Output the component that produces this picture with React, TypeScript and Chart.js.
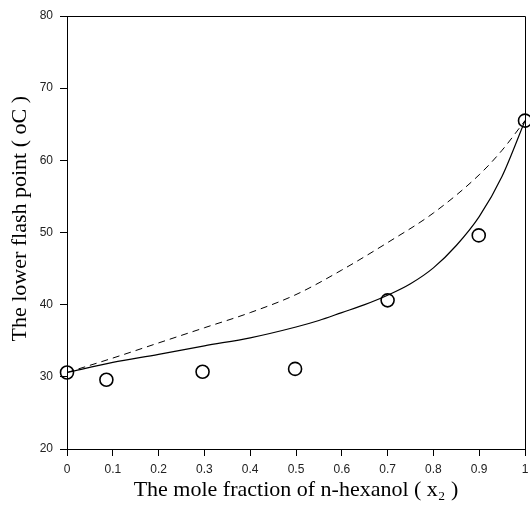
import React, { useEffect, useRef } from "react";
import { Chart, registerables } from "chart.js";

Chart.register(...registerables);

const expX = [0, 0.086, 0.296, 0.498, 0.7, 0.899, 1];
const expY = [30.6, 29.6, 30.7, 31.1, 40.6, 49.6, 65.5];

const solidX = [0, 0.1, 0.2, 0.3, 0.4, 0.5, 0.55, 0.6, 0.65, 0.7, 0.75, 0.8, 0.85, 0.9, 0.95, 1];
const solidY = [30.6, 32.0, 33.1, 34.3, 35.4, 36.9, 37.8, 38.9, 40.0, 41.3, 42.9, 45.1, 48.2, 52.2, 57.8, 65.5];

const dashX = [0, 0.1, 0.2, 0.3, 0.4, 0.5, 0.6, 0.7, 0.8, 0.9, 0.95, 1];
const dashY = [30.6, 32.6, 34.7, 36.8, 38.9, 41.4, 44.8, 48.6, 52.7, 58.0, 61.4, 65.5];

const xTitle = "The mole fraction of n-hexanol ( x\u2082 )";
const yTitle = "     The lower flash point ( oC )";

const boxPlugin = {
  id: "boxPlugin",
  afterDatasetsDraw(chart: any) {
    const { ctx, chartArea } = chart;
    ctx.save();
    ctx.strokeStyle = "#000";
    ctx.lineWidth = 1;
    ctx.beginPath();
    ctx.moveTo(chartArea.left, chartArea.top + 0.5);
    ctx.lineTo(chartArea.right + 0.5, chartArea.top + 0.5);
    ctx.lineTo(chartArea.right + 0.5, chartArea.bottom);
    ctx.stroke();
    ctx.restore();
  },
};

export default function App() {
  const ref = useRef<HTMLCanvasElement | null>(null);
  useEffect(() => {
    if (!ref.current) return;
    const toPts = (xs: number[], ys: number[]) => xs.map((x, i) => ({ x, y: ys[i] }));
    const chart = new Chart(ref.current, {
      type: "scatter",
      data: {
        datasets: [
          {
            label: "experimental",
            data: toPts(expX, expY),
            showLine: false,
            pointStyle: "circle",
            pointRadius: 6.5,
            pointBorderWidth: 1.6,
            borderColor: "#000",
            backgroundColor: "rgba(0,0,0,0)",
            clip: false,
          } as any,
          {
            label: "model",
            data: toPts(solidX, solidY),
            showLine: true,
            pointRadius: 0,
            borderColor: "#000",
            borderWidth: 1.2,
            tension: 0.4,
            cubicInterpolationMode: "monotone",
            fill: false,
          } as any,
          {
            label: "ideal",
            data: toPts(dashX, dashY),
            showLine: true,
            pointRadius: 0,
            borderColor: "#000",
            borderWidth: 1,
            borderDash: [7, 5],
            tension: 0.4,
            cubicInterpolationMode: "monotone",
            fill: false,
          } as any,
        ],
      },
      options: {
        animation: false,
        responsive: false,
        maintainAspectRatio: false,
        layout: { autoPadding: false, padding: { top: 16, right: 5, left: 0, bottom: 0 } },
        plugins: { legend: { display: false }, tooltip: { enabled: false } },
        scales: {
          x: {
            type: "linear",
            min: 0,
            max: 1,
            afterFit: (s: any) => {
              s.height = 66;
              s.paddingLeft = 0;
              s.paddingRight = 0;
            },
            ticks: {
              stepSize: 0.1,
              padding: 6,
              color: "#222",
              font: { family: "'Liberation Sans', Arial, sans-serif", size: 12 },
              maxRotation: 0,
              callback: (v: any) => String(Math.round(Number(v) * 10) / 10),
            },
            grid: {
              drawOnChartArea: false,
              drawTicks: true,
              tickLength: 7,
              color: "#000",
            },
            border: { color: "#000", width: 1 },
            title: {
              display: true,
              text: xTitle,
              color: "#000",
              font: { family: "'Liberation Serif', 'Times New Roman', serif", size: 22 },
              padding: { top: 0, bottom: 12 },
            },
          },
          y: {
            type: "linear",
            min: 20,
            max: 80,
            afterFit: (s: any) => {
              s.width = 67;
              s.paddingTop = 0;
              s.paddingBottom = 0;
            },
            ticks: {
              stepSize: 10,
              padding: 7,
              color: "#222",
              font: { family: "'Liberation Sans', Arial, sans-serif", size: 12 },
            },
            grid: {
              drawOnChartArea: false,
              drawTicks: true,
              tickLength: 7,
              color: "#000",
            },
            border: { color: "#000", width: 1 },
            title: {
              display: true,
              text: yTitle,
              color: "#000",
              font: { family: "'Liberation Serif', 'Times New Roman', serif", size: 22 },
              padding: { top: 7, bottom: 0 },
            },
          },
        },
      },
      plugins: [boxPlugin],
    });
    return () => chart.destroy();
  }, []);
  return (
    <div style={{ position: "fixed", left: 0, top: 0, width: 530, height: 515, background: "#fff" }}>
      <canvas ref={ref} width={530} height={515} style={{ width: 530, height: 515 }} />
    </div>
  );
}
